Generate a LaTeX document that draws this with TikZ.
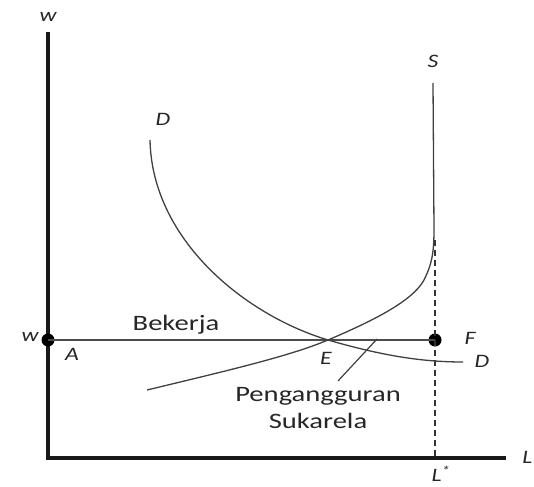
\documentclass[tikz,border=0pt]{standalone}
\usepackage{fontspec}
\setmainfont{Carlito}
\begin{document}
\begin{tikzpicture}[x=1pt,y=-1pt,
  lbl/.style={font=\fontsize{19}{22}\selectfont\itshape, inner sep=0pt, text=black!85, xscale=1.25},
  txt/.style={font=\fontsize{22}{26}\selectfont, inner sep=0pt, text=black!85, xscale=1.3},
  axis/.style={line width=3.8pt, black!90},
  curve/.style={line width=1.3pt, black!75},
  dotstyle/.style={circle, fill=black, inner sep=0pt, minimum size=13pt}]
\useasboundingbox (0,0) rectangle (534,486);
% coordinates
\coordinate (O) at (48,458);
\coordinate (Ytop) at (48,32);
\coordinate (Xend) at (506,458);
\coordinate (Lstar) at (435,458);
\coordinate (Dtop) at (435,240);
\coordinate (E) at (328,340);
% axes
\draw[axis] (Ytop) -- (O) -- (Xend);
% w line
\node[dotstyle] (A) at (48,340) {};
\node[dotstyle] (F) at (435,340) {};
\draw[line width=1.8pt, black!70] (A.center) -- (F.center);
% dashed
\draw[line width=1.8pt, black!80, dash pattern=on 6pt off 4pt] (Dtop) -- (Lstar);
% D curve
\draw[curve] (150,140) .. controls (152,240) and (245,315) .. (E)
  .. controls (380,355) and (420,362) .. (463,362);
% S curve
\draw[curve] (147,390) .. controls (230,370) and (290,356) .. (E)
  .. controls (370,322) and (412,302) .. (424,280)
  .. controls (431,266) and (434,255) .. (434,230) -- (433,83);
% pointer
\coordinate (P1) at (338,381);
\coordinate (P2) at (377,339);
\draw[line width=1.2pt, black!75] (P1) -- (P2);
% labels
\node[lbl] (lw) at (48,17) {w};
\node[lbl] (lw2) at (30,337) {w};
\node[lbl] (lA) at (72,354) {A};
\node[lbl] (lE) at (326,358) {E};
\node[lbl] (lF) at (470,338) {F};
\node[lbl] (lD2) at (482,361) {D};
\node[lbl] (lD1) at (163,119) {D};
\node[lbl] (lS) at (433,61) {S};
\node[lbl] (lL) at (441,474) {L\textsuperscript{*}};
\node[lbl, anchor=west] (lLx) at (522,457) {L};
\node[txt] (bek) at (176,325) {Bekerja};
\node[txt] (pen) at (318,396) {Pengangguran};
\node[txt] (suk) at (318,421) {Sukarela};
\end{tikzpicture}
\end{document}
